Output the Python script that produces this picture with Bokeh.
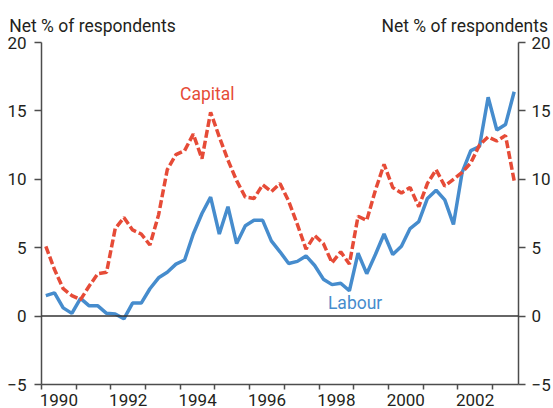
from bokeh.plotting import figure
from bokeh.models import Range1d, LinearAxis, FixedTicker, Span, Label
from bokeh.embed import file_html
from bokeh.resources import INLINE

# ---------------- data (quarterly, 1990 Q1 - 2003 Q3) ----------------
start_year = 1990
capital = [5.1, 3.4, 2.0, 1.5, 1.2, 2.2, 3.1, 3.2, 6.4, 7.2, 6.3, 6.0,
           5.2, 7.4, 10.7, 11.8, 12.1, 13.3, 11.5, 14.9, 13.1, 11.4, 9.9, 8.7,
           8.6, 9.6, 9.1, 9.7, 8.4, 6.7, 4.9, 5.9, 5.3, 3.9, 4.7, 3.8,
           7.3, 7.0, 9.2, 11.1, 9.4, 9.0, 9.4, 8.0, 9.7, 10.7, 9.5, 10.0,
           10.5, 11.2, 12.5, 13.1, 12.8, 13.2, 9.9]
labour = [1.5, 1.7, 0.6, 0.2, 1.3, 0.75, 0.75, 0.2, 0.15, -0.2, 0.95, 0.95,
          2.0, 2.8, 3.2, 3.8, 4.1, 6.0, 7.5, 8.7, 6.0, 8.0, 5.3, 6.6,
          7.0, 7.0, 5.5, 4.7, 3.85, 4.0, 4.4, 3.7, 2.7, 2.3, 2.4, 1.85,
          4.6, 3.1, 4.5, 6.0, 4.5, 5.1, 6.4, 6.9, 8.6, 9.2, 8.5, 6.7,
          10.5, 12.1, 12.4, 16.0, 13.6, 14.0, 16.4]
y_ticks = [-5, 0, 5, 10, 15, 20]
year_ticks = list(range(1990, 2004))
year_labels = ["1990", "1992", "1994", "1996", "1998", "2000", "2002"]
axis_title = "Net % of respondents"
series_names = ["Capital", "Labour"]

x = [start_year + (i + 0.5) / 4 for i in range(len(capital))]

FONT = "Roboto"
TXT = "#231f20"
AX = "#4d4d4d"
BLUE = "#468ccd"
RED = "#e64b37"

p = figure(width=553, height=408, output_backend="svg", toolbar_location=None,
           x_range=Range1d(1990, 2003.75), y_range=Range1d(-5, 20),
           min_border_left=41, min_border_right=31, min_border_top=42,
           min_border_bottom=24)
p.outline_line_color = None
p.grid.visible = False
p.background_fill_color = "white"
p.border_fill_color = "white"

# x axis: tick marks at year boundaries (minor), labels in mid-year (major)
label_pos = [int(s) + 0.5 for s in year_labels]
xa = p.xaxis[0]
xa.ticker = FixedTicker(ticks=label_pos, minor_ticks=year_ticks)
xa.major_label_overrides = {pos: s for pos, s in zip(label_pos, year_labels)}
xa.major_tick_out = 0
xa.major_tick_in = 0
xa.major_tick_line_color = None
xa.minor_tick_out = 5
xa.minor_tick_in = 0
xa.minor_tick_line_color = AX
xa.minor_tick_line_width = 1.5
xa.major_label_text_font = FONT
xa.major_label_text_font_size = "17px"
xa.major_label_text_color = TXT
xa.major_label_standoff = 4
xa.axis_line_color = AX
xa.axis_line_width = 1.5

ya = p.yaxis[0]
right = LinearAxis()
p.add_layout(right, "right")
for a, so in ((ya, 8), (right, 6)):
    a.ticker = FixedTicker(ticks=y_ticks)
    a.major_tick_out = 7
    a.major_tick_in = 0
    a.minor_tick_out = 0
    a.major_label_text_font = FONT
    a.major_label_text_font_size = "17px"
    a.major_label_text_color = TXT
    a.major_label_standoff = so
    a.axis_line_color = AX
    a.axis_line_width = 1.5
    a.major_tick_line_color = AX
    a.major_tick_line_width = 1.5

# axis titles, drawn as labels of an invisible axis above the frame
title_pos = [1991.47, 2002.2]
top = LinearAxis(ticker=FixedTicker(ticks=title_pos),
                 major_label_overrides={t: axis_title for t in title_pos})
top.axis_line_color = None
top.major_tick_line_color = None
top.minor_tick_line_color = None
top.major_tick_out = 0
top.major_label_text_font = FONT
top.major_label_text_font_size = "17.5px"
top.major_label_text_color = TXT
top.major_label_standoff = 7
p.add_layout(top, "above")

p.add_layout(Span(location=0, dimension="width", line_color="#333333", line_width=1.5))

p.line(x, labour, line_color=BLUE, line_width=3.5)
p.line(x, capital, line_color=RED, line_width=3.5, line_dash="8 3")

p.add_layout(Label(x=1994.78, y=15.76, y_offset=7, text=series_names[0],
                   text_align="center", text_baseline="alphabetic", text_font=FONT,
                   text_font_size="17.5px", text_color=RED))
p.add_layout(Label(x=1999.04, y=0.46, y_offset=7, text=series_names[1],
                   text_align="center", text_baseline="alphabetic", text_font=FONT,
                   text_font_size="17.5px", text_color=BLUE))

open("out.html", "w").write(file_html(p, INLINE))
